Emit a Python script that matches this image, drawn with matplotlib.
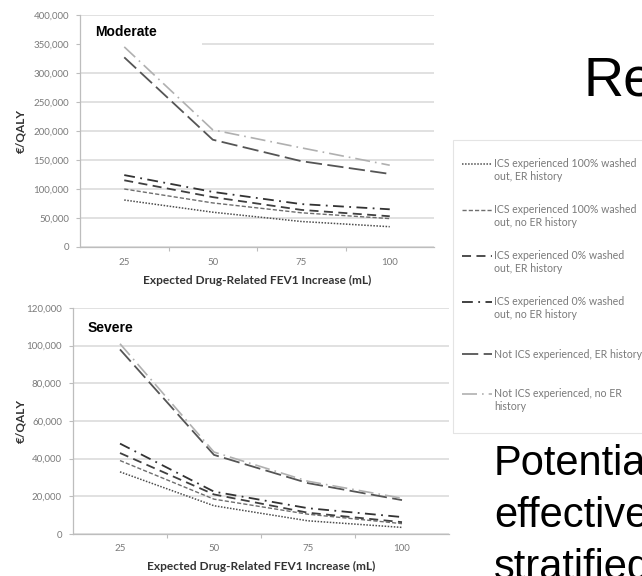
import matplotlib
matplotlib.use("Agg")
import matplotlib.pyplot as plt
from matplotlib.patches import Rectangle
from matplotlib.lines import Line2D
from matplotlib.ticker import FuncFormatter

W, H = 642, 576

# expected FEV1 increase categories (mL)
fev1 = ['25', '50', '75', '100']

series_names = [
    'ICS experienced 100% washed\nout, ER history',
    'ICS experienced 100% washed\nout, no ER history',
    'ICS experienced 0% washed\nout, ER history',
    'ICS experienced 0% washed\nout, no ER history',
    'Not ICS experienced, ER history',
    'Not ICS experienced, no ER\nhistory',
]

# cost per QALY, moderate COPD
moderate_ics100_er = [81000, 60000, 44000, 35000]
moderate_ics100_noer = [100000, 76000, 59000, 49000]
moderate_ics0_er = [115000, 86000, 64000, 53000]
moderate_ics0_noer = [124000, 95000, 74000, 65000]
moderate_notics_er = [327000, 185000, 148000, 126000]
moderate_notics_noer = [345000, 202000, 171000, 141000]

# cost per QALY, severe COPD
severe_ics100_er = [33000, 15000, 7000, 3500]
severe_ics100_noer = [39000, 18500, 10500, 5500]
severe_ics0_er = [43000, 21000, 11300, 6300]
severe_ics0_noer = [48000, 22500, 13700, 9000]
severe_notics_er = [98000, 42000, 27000, 18000]
severe_notics_noer = [101000, 43500, 28000, 19000]

moderate = [moderate_ics100_er, moderate_ics100_noer, moderate_ics0_er,
            moderate_ics0_noer, moderate_notics_er, moderate_notics_noer]
severe = [severe_ics100_er, severe_ics100_noer, severe_ics0_er,
          severe_ics0_noer, severe_notics_er, severe_notics_noer]

styles = [
    dict(color='#4d4d4d', lw=1.1, dashes=(1, 1)),
    dict(color='#6e6e6e', lw=1.0, dashes=(3, 1.5)),
    dict(color='#404040', lw=1.3, dashes=(5, 3)),
    dict(color='#333333', lw=1.3, dashes=(6, 3, 1, 3)),
    dict(color='#555555', lw=1.3, dashes=(9, 3)),
    dict(color='#b0b0b0', lw=1.2, dashes=(9, 3, 1, 3)),
]

chart_font = 'Lato'
tick_color = '#7a7a7a'
grid_color = '#d9d9d9'
axis_color = '#bdbdbd'


def fx(px):
    return px / W


def fy(py):
    return 1 - py / H


def draw_panel(ax, data, ymax, ystep, title, title_xy, xpad):
    x = range(len(fev1))
    for values, st in zip(data, styles):
        ax.plot(x, values, color=st['color'], lw=st['lw'],
                dashes=st['dashes'], zorder=3)
    ax.set_xlim(-0.5, len(fev1) - 0.5)
    ax.set_ylim(0, ymax)
    ax.set_yticks(range(0, ymax + 1, ystep))
    ax.yaxis.set_major_formatter(FuncFormatter(lambda v, p: f'{int(v):,}'))
    ax.set_xticks(list(x))
    ax.set_xticklabels(fev1)
    ax.set_xticks([0.5, 1.5, 2.5], minor=True)
    ax.tick_params(axis='x', which='major', length=0, pad=xpad,
                   labelsize=7, labelcolor=tick_color)
    ax.tick_params(axis='x', which='minor', length=3, width=0.8,
                   color=axis_color, direction='out')
    ax.tick_params(axis='y', length=3, width=0.8, color=axis_color, pad=5,
                   labelsize=7, labelcolor=tick_color)
    for lab in ax.get_xticklabels() + ax.get_yticklabels():
        lab.set_family(chart_font)
    ax.grid(axis='y', color=grid_color, lw=1.1, zorder=0)
    ax.set_axisbelow(True)
    for side in ('top', 'right'):
        ax.spines[side].set_visible(False)
    for side in ('left', 'bottom'):
        ax.spines[side].set_color(axis_color)
        ax.spines[side].set_linewidth(0.9)
    ax.text(title_xy[0], title_xy[1], title, transform=ax.transAxes,
            family='Liberation Sans', fontweight='bold', fontsize=10,
            ha='left', va='center', zorder=5)


fig = plt.figure(figsize=(W / 100, H / 100), dpi=100)

# top panel: moderate
ax1 = fig.add_axes([fx(80), fy(247), fx(434 - 80), (247 - 15) / H])
draw_panel(ax1, moderate, 400000, 50000, 'Moderate',
           ((95 - 80) / 354, (247 - 32) / 232), 8)
# white box behind the panel title
ax1.add_patch(Rectangle((0.004, 0.862), 0.34, 0.121, transform=ax1.transAxes,
                        facecolor='white', edgecolor='none', zorder=2))

# bottom panel: severe
ax2 = fig.add_axes([fx(73), fy(534), fx(449 - 73), (534 - 308) / H])
draw_panel(ax2, severe, 120000, 20000, 'Severe',
           ((88 - 73) / 376, (534 - 328) / 226), 7)

xlabel = 'Expected Drug-Related FEV1 Increase (mL)'
fig.text(fx(257), fy(280), xlabel, family=chart_font, fontweight='bold',
         fontsize=8.6, color='#333333', ha='center', va='center')
fig.text(fx(261), fy(566), xlabel, family=chart_font, fontweight='bold',
         fontsize=8.6, color='#333333', ha='center', va='center')
fig.text(fx(21), fy(131), '€/QALY', family=chart_font, fontweight='bold',
         fontsize=8.5, color='#333333', rotation=90, ha='center', va='center')
fig.text(fx(21), fy(421), '€/QALY', family=chart_font, fontweight='bold',
         fontsize=8.5, color='#333333', rotation=90, ha='center', va='center')

# legend box on the right
fig.patches.append(Rectangle((fx(453), fy(433)), fx(200), (433 - 140) / H,
                             transform=fig.transFigure, facecolor='none',
                             edgecolor='#e4e4e4', lw=0.8))
for i, (name, st) in enumerate(zip(series_names, styles)):
    center = 170 + 46 * i
    row1 = center - 6.5 if '\n' in name else center
    fig.lines.append(Line2D([fx(462), fx(492)], [fy(row1), fy(row1)],
                            transform=fig.transFigure, color=st['color'],
                            lw=st['lw'], dashes=st['dashes']))
    fig.text(fx(494), fy(center), name, family=chart_font, fontsize=7.6,
             color='#7a7a7a', ha='left', va='center', linespacing=1.15)

# slide text around the chart
fig.text(fx(584), fy(95), 'Re', family='Liberation Sans', fontsize=40,
         color='black', ha='left', va='baseline')
for text, base in [('Potentia', 475), ('effective', 527), ('stratified', 579)]:
    fig.text(fx(494), fy(base), text, family='Liberation Sans', fontsize=30,
             color='black', ha='left', va='baseline')

fig.savefig('out.png', dpi=100)
